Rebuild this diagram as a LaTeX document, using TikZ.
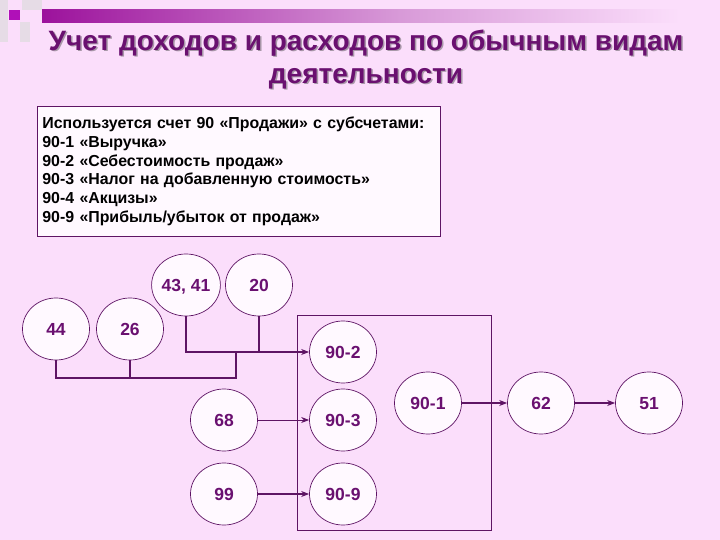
\documentclass[tikz,border=0pt]{standalone}
\usepackage{fontspec}
\setmainfont{Liberation Sans}
\usetikzlibrary{arrows.meta,shapes.geometric}
\definecolor{bg}{HTML}{FBDEFB}
\definecolor{ink}{HTML}{6A1070}
\definecolor{wire}{HTML}{5E1464}
\definecolor{cfill}{HTML}{FFF9FF}
\definecolor{barc}{HTML}{9C129C}
\definecolor{barm}{HTML}{D89AD8}
\definecolor{mag}{HTML}{B010B8}
\definecolor{sq}{HTML}{E6DCE6}
\definecolor{shadow}{HTML}{A898A8}
\tikzset{
  acct/.style={ellipse, draw=wire, line width=0.7pt, fill=cfill, minimum width=67pt, minimum height=62pt, inner sep=0pt,
    font=\fontsize{17.5}{20}\selectfont\bfseries, text=ink, text height=12.5pt, text depth=0pt},
  wireline/.style={draw=wire, line width=2pt},
  thinwire/.style={draw=wire, line width=1.6pt},
  tip/.style={-{Stealth[length=8pt,width=6pt]}},
  titletext/.style={font=\fontsize{28}{33}\selectfont\bfseries, align=center},
}
\begin{document}
\begin{tikzpicture}[x=1pt,y=-1pt]
\fill[bg] (0,0) rectangle (720,540);
\useasboundingbox (0,0) rectangle (720,540);
% corner decoration
\fill[sq] (0,0) rectangle (8,42);
\fill[sq] (22,0) rectangle (42,10);
\fill[sq] (20,22) rectangle (30,42);
\fill[mag] (9,10) rectangle (20,20);
\shade[left color=barc, right color=barm] (42,10) rectangle (400,23);
\shade[left color=barm, right color=bg] (400,10) rectangle (680,23);
% title
\node[titletext, text=shadow] at (367.5,61) {Учет доходов и расходов по обычным видам\\деятельности};
\node[titletext, text=ink] (title) at (366,59.5) {Учет доходов и расходов по обычным видам\\деятельности};
% info box
\node[draw=wire, line width=0.8pt, fill=cfill, anchor=north west, minimum width=403pt, minimum height=130pt,
  align=left, text width=393pt, inner xsep=5pt, inner ysep=6pt, font=\fontsize{15.9}{18.7}\selectfont\bfseries] (info) at (37,106)
  {Используется счет 90 «Продажи» с субсчетами:\\
   90-1 «Выручка»\\
   90-2 «Себестоимость продаж»\\
   90-3 «Налог на добавленную стоимость»\\
   90-4 «Акцизы»\\
   90-9 «Прибыль/убыток от продаж»};
% group rectangle
\draw[wire, line width=0.8pt] (297,315) rectangle (491,530);
% accounts
\node[acct] (a4341) at (186,285) {43, 41};
\node[acct] (a20) at (259,285) {20};
\node[acct] (a44) at (56,329) {44};
\node[acct] (a26) at (130,329) {26};
\node[acct] (a902) at (343,352) {90-2};
\node[acct] (a68) at (224,420) {68};
\node[acct] (a903) at (343,420) {90-3};
\node[acct] (a99) at (224,494) {99};
\node[acct] (a909) at (343,494) {90-9};
\node[acct] (a901) at (428,403) {90-1};
\node[acct] (a62) at (541,403) {62};
\node[acct] (a51) at (649,403) {51};
% junctions
\coordinate (j) at (236,352);
\coordinate (k) at (236,378);
% connectors
\draw[wireline, tip] (a4341.south) |- (a902.west);
\draw[wireline] (a20.south) -- (a20.south |- j);
\draw[thinwire] (a44.south) |- (k) -- (j);
\draw[thinwire] (a26.south) -- (a26.south |- k);
\draw[draw=wire, line width=1pt, tip] (a68) -- (a903);
\draw[wireline, tip] (a99) -- (a909);
\draw[wireline, tip] (a901) -- (a62);
\draw[wireline, tip] (a62) -- (a51);
\end{tikzpicture}
\end{document}
